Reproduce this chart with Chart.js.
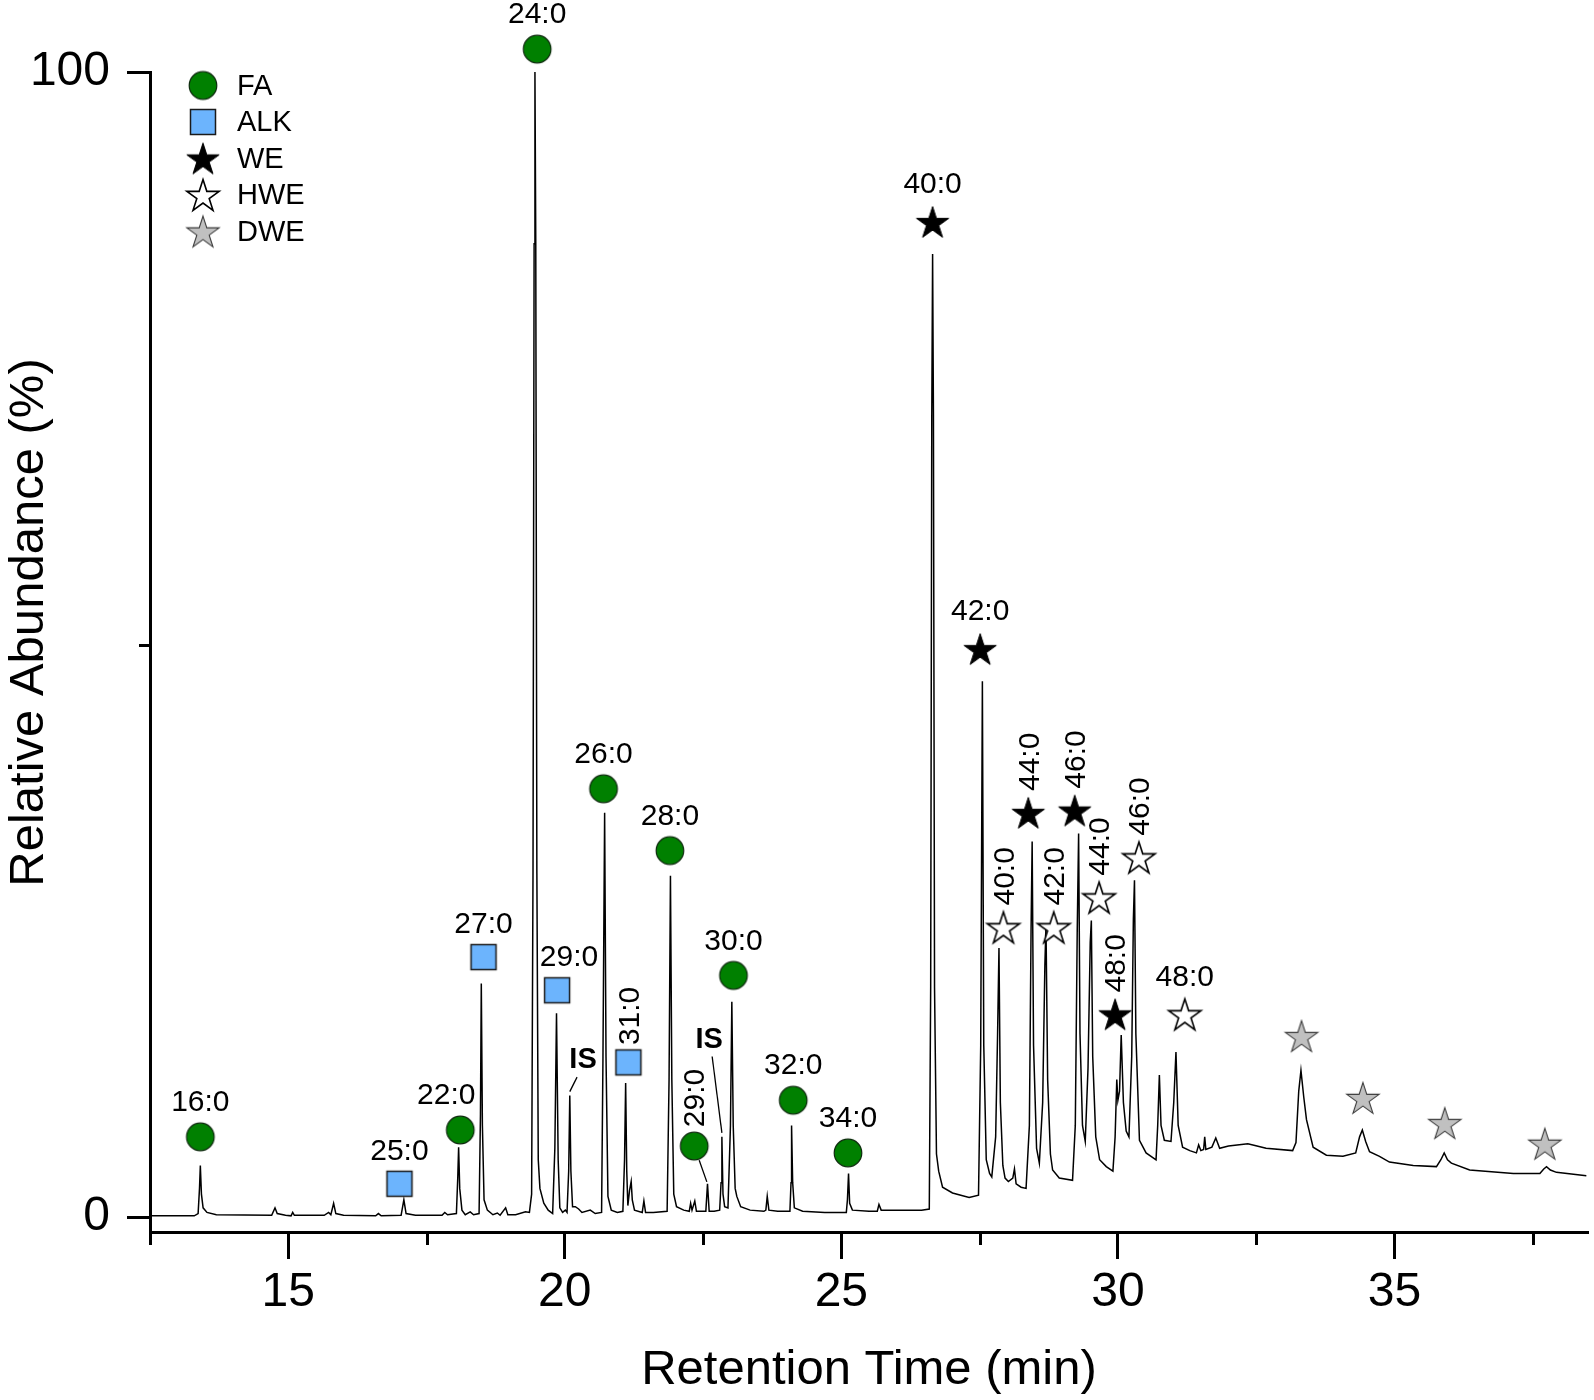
<!DOCTYPE html>
<html>
<head>
<meta charset="utf-8">
<script src="https://cdn.jsdelivr.net/npm/chart.js@4.4.1/dist/chart.umd.min.js"></script>
<style>
html, body { margin: 0; padding: 0; background: #fff; }
#wrap { width: 1594px; height: 1400px; position: relative; }
</style>
</head>
<body>
<div id="wrap"><canvas id="c" width="1594" height="1400"></canvas></div>
<script>
// ---------------- DATA ----------------
const xTitle = 'Retention Time (min)';
const yTitle = 'Relative Abundance (%)';
const xMajorTicks = [15, 20, 25, 30, 35];
const xMinorTicks = [12.5, 17.5, 22.5, 27.5, 32.5, 37.5];
const yMajorTicks = [0, 100];
const yMinorTicks = [50];

// chromatogram trace (retention time, relative abundance %)
const traceTime = [
  12.50, 13.30, 13.37, 13.395, 13.41, 13.43, 13.46, 13.53, 13.70, 14.70, 14.76, 14.80, 14.95, 15.05, 15.08, 15.11,
  15.65, 15.73, 15.77, 15.82, 15.86, 16.00, 16.58, 16.63, 16.68, 17.04, 17.09, 17.13, 17.30, 17.78, 17.83, 17.88,
  18.04, 18.065, 18.08, 18.10, 18.14, 18.20, 18.29, 18.35, 18.45, 18.475, 18.49, 18.51, 18.54, 18.60, 18.70, 18.78,
  18.83, 18.93, 18.97, 19.11, 19.29, 19.36, 19.40, 19.425, 19.445, 19.46, 19.475, 19.495, 19.52, 19.55, 19.62, 19.70,
  19.78, 19.82, 19.85, 19.88, 19.91, 19.96, 20.01, 20.04, 20.07, 20.09, 20.11, 20.14, 20.19, 20.25, 20.31, 20.46,
  20.55, 20.665, 20.69, 20.72, 20.745, 20.78, 20.84, 20.95, 21.05, 21.08, 21.10, 21.12, 21.14, 21.17, 21.20, 21.22,
  21.26, 21.40, 21.43, 21.46, 21.60, 21.85, 21.885, 21.91, 21.935, 21.97, 22.02, 22.15, 22.25, 22.275, 22.30, 22.35,
  22.38, 22.55, 22.58, 22.61, 22.70, 22.80, 22.825, 22.84, 22.86, 22.89, 22.95, 22.995, 23.02, 23.045, 23.08, 23.11,
  23.18, 23.35, 23.60, 23.635, 23.66, 23.69, 23.85, 24.07, 24.09, 24.10, 24.12, 24.15, 24.30, 24.70, 25.09, 25.11,
  25.13, 25.15, 25.20, 25.50, 25.65, 25.68, 25.72, 26.10, 26.45, 26.59, 26.615, 26.635, 26.65, 26.665, 26.685, 26.72,
  26.76, 26.83, 27.01, 27.31, 27.48, 27.52, 27.55, 27.575, 27.62, 27.68, 27.72, 27.79, 27.825, 27.85, 27.875, 27.92,
  27.96, 28.02, 28.10, 28.13, 28.16, 28.25, 28.34, 28.40, 28.43, 28.45, 28.475, 28.53, 28.58, 28.64, 28.68, 28.70,
  28.73, 28.78, 28.82, 28.94, 29.18, 29.23, 29.265, 29.29, 29.315, 29.36, 29.41, 29.46, 29.50, 29.52, 29.545, 29.60,
  29.67, 29.79, 29.91, 29.95, 29.98, 30.00, 30.03, 30.06, 30.10, 30.15, 30.20, 30.25, 30.28, 30.30, 30.325, 30.39,
  30.51, 30.69, 30.72, 30.75, 30.78, 30.84, 30.96, 31.01, 31.05, 31.09, 31.17, 31.30, 31.42, 31.46, 31.50, 31.55,
  31.57, 31.59, 31.70, 31.77, 31.84, 32.00, 32.35, 32.68, 33.16, 33.22, 33.27, 33.31, 33.36, 33.41, 33.53, 33.77,
  34.07, 34.30, 34.37, 34.42, 34.48, 34.55, 34.73, 34.91, 35.34, 35.76, 35.84, 35.90, 35.96, 36.03, 36.36, 37.15,
  37.63, 37.70, 37.75, 37.82, 37.93, 38.47
];
const traceAbundance = [
  0.1, 0.1, 0.3, 2.5, 4.5, 2.0, 0.8, 0.4, 0.2, 0.15, 0.8, 0.3, 0.15, 0.1, 0.4, 0.15,
  0.15, 0.4, 0.2, 1.2, 0.3, 0.15, 0.1, 0.3, 0.1, 0.15, 1.5, 0.3, 0.15, 0.15, 0.4, 0.2,
  0.3, 3.5, 6.1, 2.5, 0.6, 0.2, 0.45, 0.2, 0.3, 9, 20.4, 8, 1.5, 0.6, 0.2, 0.35,
  0.15, 0.8, 0.2, 0.2, 0.45, 0.4, 2, 30, 85, 100, 85, 30, 5, 2.5, 1.2, 0.6,
  0.3, 6, 17.8, 5, 0.8, 0.4, 0.6, 0.4, 4, 10.6, 4, 0.9, 0.9, 0.7, 0.4, 0.6,
  0.3, 0.4, 14, 35.3, 14, 1.8, 0.6, 0.4, 0.5, 5, 11.7, 4, 1.0, 2.3, 3.1, 1.5,
  0.6, 0.4, 1.4, 0.4, 0.4, 0.5, 12, 29.8, 12, 2.0, 0.9, 0.6, 0.5, 1.2, 0.6, 1.4,
  0.5, 0.5, 2.9, 0.5, 0.5, 0.6, 3, 7.0, 2, 0.9, 0.8, 8, 18.8, 8, 2.5, 1.8,
  0.9, 0.6, 0.5, 0.6, 1.8, 0.6, 0.5, 0.5, 3, 8.0, 3, 0.8, 0.5, 0.4, 0.4, 1.5,
  3.8, 1.2, 0.6, 0.5, 0.5, 1.1, 0.6, 0.6, 0.6, 0.7, 20, 70, 84.1, 70, 20, 5.5,
  4.0, 2.6, 2.1, 1.7, 1.9, 15, 46.8, 15, 5, 3.8, 3.5, 7, 16, 23.5, 10, 4.5,
  3.4, 3.1, 3.4, 4.2, 2.9, 2.6, 2.5, 8, 25, 32.8, 15, 6, 4.7, 10, 22, 25.5,
  12, 5.5, 4.1, 3.4, 3.2, 8, 25, 33.5, 16, 8, 6.6, 13, 24, 25.9, 14, 7,
  5.0, 4.4, 4.0, 7, 12.0, 10.2, 11, 15.9, 10, 7.5, 7.0, 14, 26, 29.4, 16, 6.7,
  5.6, 5.0, 8, 12.4, 8, 6.7, 6.6, 10, 14.4, 8, 6.1, 5.8, 5.6, 6.3, 5.8, 5.9,
  7.0, 5.9, 6.1, 6.9, 6.0, 6.2, 6.4, 6.0, 5.8, 6.5, 11, 12.8, 10.5, 8.5, 6.1, 5.4,
  5.3, 5.6, 7.0, 7.6, 6.6, 5.7, 5.3, 4.8, 4.5, 4.4, 5.0, 5.6, 5.0, 4.7, 4.1, 3.8,
  3.8, 4.2, 4.4, 4.1, 3.9, 3.6
];

// compound class markers (time, marker height %) and their labels
const faTime   = [13.41, 18.11, 19.50, 20.70, 21.90, 22.34, 23.05, 24.13, 25.12];
const faValue  = [7.0, 7.6, 102.0, 37.4, 32.0, 6.2, 21.1, 10.2, 5.6];
const faLabels = ['16:0', '22:0', '24:0', '26:0', '28:0', '29:0', '30:0', '32:0', '34:0'];

const alkTime   = [17.01, 18.53, 19.86, 21.15];
const alkValue  = [2.9, 22.7, 19.8, 13.5];
const alkLabels = ['25:0', '27:0', '29:0', '31:0'];

const weTime   = [26.65, 27.51, 28.38, 29.22, 29.95];
const weValue  = [86.9, 49.6, 35.3, 35.5, 17.7];
const weLabels = ['40:0', '42:0', '44:0', '46:0', '48:0'];

const hweTime   = [27.93, 28.84, 29.66, 30.38, 31.21];
const hweValue  = [25.3, 25.3, 27.9, 31.4, 17.7];
const hweLabels = ['40:0', '42:0', '44:0', '46:0', '48:0'];

const dweTime  = [33.32, 34.43, 35.91, 37.72];
const dweValue = [15.8, 10.4, 8.2, 6.4];

const legendNames = ['FA', 'ALK', 'WE', 'HWE', 'DWE'];

// internal standard annotations
const isLabel     = ['IS', 'IS'];
const isLabelTime = [20.33, 22.61];
const isLabelY    = [13.7, 15.5];
const isPeakTime  = [20.09, 22.84];
const isPeakY     = [10.6, 7.0];

// marker-to-peak leader (FA 29:0)
const leaderSeries = ['FA'];
const leaderLabel  = ['29:0'];
const leaderPeakTime = [22.58];
const leaderPeakY    = [2.9];

// ---------------- STYLE ----------------
const FONT = '"Liberation Sans", Arial, Helvetica, sans-serif';
Chart.defaults.font.family = FONT;
Chart.defaults.color = '#000';

function makeCircle() {
  const c = document.createElement('canvas'); c.width = 32; c.height = 32;
  const g = c.getContext('2d');
  g.beginPath(); g.arc(16, 16, 13.8, 0, Math.PI * 2);
  g.fillStyle = '#008000'; g.fill();
  g.lineWidth = 1.2; g.strokeStyle = '#0d2a0d'; g.stroke();
  return c;
}
function makeSquare() {
  const c = document.createElement('canvas'); c.width = 30; c.height = 30;
  const g = c.getContext('2d');
  g.fillStyle = '#6cb4fd'; g.fillRect(2.5, 2.5, 25, 25);
  g.lineWidth = 1.5; g.strokeStyle = '#1a1a1a'; g.strokeRect(2.5, 2.5, 25, 25);
  return c;
}
function makeStar(fill, stroke, lw) {
  const size = 40, R = 17, r = R * 0.382;
  const c = document.createElement('canvas'); c.width = size; c.height = size;
  const g = c.getContext('2d');
  g.translate(size / 2, size / 2 + 1.6);
  g.beginPath();
  for (let i = 0; i < 10; i++) {
    const rad = i % 2 === 0 ? R : r;
    const a = -Math.PI / 2 + i * Math.PI / 5;
    const px = rad * Math.cos(a), py = rad * Math.sin(a);
    if (i === 0) g.moveTo(px, py); else g.lineTo(px, py);
  }
  g.closePath();
  g.fillStyle = fill; g.fill();
  g.lineJoin = 'miter'; g.lineWidth = lw; g.strokeStyle = stroke; g.stroke();
  return c;
}
const imgFA = makeCircle();
const imgALK = makeSquare();
const imgWE = makeStar('#000000', '#000000', 1);
const imgHWE = makeStar('#ffffff', '#000000', 1.6);
const imgDWE = makeStar('#c0c0c0', '#3a3a3a', 1.1);

const series = [
  { name: 'FA',  time: faTime,  value: faValue,  labels: faLabels,  img: imgFA,  half: 14 },
  { name: 'ALK', time: alkTime, value: alkValue, labels: alkLabels, img: imgALK, half: 12.5 },
  { name: 'WE',  time: weTime,  value: weValue,  labels: weLabels,  img: imgWE,  half: 17 },
  { name: 'HWE', time: hweTime, value: hweValue, labels: hweLabels, img: imgHWE, half: 17 },
  { name: 'DWE', time: dweTime, value: dweValue, labels: [],        img: imgDWE, half: 17 }
];
// labels drawn vertically, and small horizontal nudges (px)
const verticalLabels = { FA: ['29:0'], ALK: ['31:0'], WE: ['44:0', '46:0', '48:0'], HWE: ['40:0', '42:0', '44:0', '46:0'] };
const labelNudge = { 'FA 22:0': -14, 'ALK 29:0': 12 };

const annotate = {
  id: 'annotate',
  afterDraw(chart) {
    const ctx = chart.ctx, xs = chart.scales.x, ys = chart.scales.y, ca = chart.chartArea;
    ctx.save();
    // minor ticks
    ctx.strokeStyle = '#000'; ctx.lineWidth = 3;
    xMinorTicks.forEach(v => {
      const px = Math.round(xs.getPixelForValue(v)) + 0.5;
      ctx.beginPath(); ctx.moveTo(px, ca.bottom); ctx.lineTo(px, ca.bottom + 13); ctx.stroke();
    });
    yMinorTicks.forEach(v => {
      const py = Math.round(ys.getPixelForValue(v)) + 0.5;
      ctx.beginPath(); ctx.moveTo(ca.left, py); ctx.lineTo(ca.left - 11, py); ctx.stroke();
    });

    // y title
    ctx.save();
    ctx.font = '49px ' + FONT; ctx.fillStyle = '#000';
    ctx.translate(ys.left + 29.4, (ys.getPixelForValue(0) + ys.getPixelForValue(100)) / 2 - 22);
    ctx.rotate(-Math.PI / 2);
    ctx.textAlign = 'center'; ctx.textBaseline = 'middle';
    ctx.fillText(yTitle, 0, 0);
    ctx.restore();

    // peak labels
    ctx.fillStyle = '#000';
    ctx.font = '30px ' + FONT;
    series.forEach(s => {
      s.labels.forEach((lab, i) => {
        const px = xs.getPixelForValue(s.time[i]);
        const py = ys.getPixelForValue(s.value[i]);
        const vert = (verticalLabels[s.name] || []).includes(lab);
        if (vert) {
          ctx.save();
          ctx.translate(px + 2, py - s.half - 34);
          ctx.rotate(-Math.PI / 2);
          ctx.textAlign = 'center'; ctx.textBaseline = 'middle';
          ctx.fillText(lab, 0, 0);
          ctx.restore();
        } else {
          const dx = labelNudge[s.name + ' ' + lab] || 0;
          ctx.textAlign = 'center'; ctx.textBaseline = 'middle';
          ctx.fillText(lab, px + dx, py - s.half - 20);
        }
      });
    });

    // leader from marker to peak
    ctx.lineWidth = 1.3; ctx.strokeStyle = '#000';
    leaderSeries.forEach((sn, k) => {
      const s = series.find(q => q.name === sn);
      const i = s.labels.indexOf(leaderLabel[k]);
      const mx = xs.getPixelForValue(s.time[i]), my = ys.getPixelForValue(s.value[i]);
      const tx = xs.getPixelForValue(leaderPeakTime[k]), ty = ys.getPixelForValue(leaderPeakY[k]);
      const d = Math.hypot(tx - mx, ty - my), ux = (tx - mx) / d, uy = (ty - my) / d;
      ctx.beginPath();
      ctx.moveTo(mx + ux * (s.half + 1), my + uy * (s.half + 1));
      ctx.lineTo(tx - ux * 2, ty - uy * 2);
      ctx.stroke();
    });

    // IS labels and leaders
    ctx.font = 'bold 29px ' + FONT;
    isLabel.forEach((t, i) => {
      const lx = xs.getPixelForValue(isLabelTime[i]), ly = ys.getPixelForValue(isLabelY[i]);
      const tx = xs.getPixelForValue(isPeakTime[i]), ty = ys.getPixelForValue(isPeakY[i]);
      ctx.textAlign = 'center'; ctx.textBaseline = 'middle';
      ctx.fillText(t, lx, ly);
      const sx = lx + Math.max(-6, Math.min(3, (tx - lx) * 0.5));
      ctx.beginPath(); ctx.moveTo(sx, ly + 17); ctx.lineTo(tx, ty - 4); ctx.stroke();
    });

    // legend
    ctx.font = '29px ' + FONT; ctx.textAlign = 'left'; ctx.textBaseline = 'middle';
    legendNames.forEach((n, i) => {
      const s = series.find(q => q.name === n);
      const cx = ca.left + 53, cy = ca.top + 13.5 + i * 36.5;
      ctx.drawImage(s.img, cx - s.img.width / 2, cy - s.img.height / 2);
      ctx.fillText(n, ca.left + 87, cy + 1);
    });
    ctx.restore();
  }
};

const markerDatasets = series.map(s => ({
  label: s.name,
  data: s.time.map((t, i) => ({ x: t, y: s.value[i] })),
  pointStyle: s.img,
  pointRadius: 40,
  pointBorderWidth: 0,
  showLine: false,
  clip: false,
  order: 0
}));

new Chart(document.getElementById('c'), {
  type: 'scatter',
  data: {
    datasets: [
      {
        label: 'trace',
        data: traceTime.map((t, i) => ({ x: t, y: traceAbundance[i] })),
        showLine: true,
        borderColor: '#000',
        borderWidth: 1.5,
        pointRadius: 0,
        tension: 0,
        order: 5
      },
      ...markerDatasets
    ]
  },
  options: {
    responsive: false,
    animation: false,
    events: [],
    layout: { autoPadding: false, padding: { top: 72, right: 6, left: 0, bottom: 0 } },
    plugins: { legend: { display: false }, tooltip: { enabled: false } },
    scales: {
      x: {
        type: 'linear', min: 12.5, max: 38.5,
        afterBuildTicks: a => { a.ticks = xMajorTicks.map(v => ({ value: v })); },
        afterFit: s => { s.height = 168; s.paddingLeft = 0; s.paddingRight = 0; },
        grid: { display: true, drawOnChartArea: false, drawTicks: true, tickLength: 27, tickWidth: 3, tickColor: '#000' },
        border: { display: true, width: 3, color: '#000' },
        ticks: { font: { size: 48 }, color: '#000', padding: 5, maxRotation: 0, autoSkip: false, callback: v => String(v) },
        title: { display: true, text: xTitle, font: { size: 49 }, color: '#000', padding: 0 }
      },
      y: {
        type: 'linear', min: -1.31, max: 100,
        afterBuildTicks: a => { a.ticks = yMajorTicks.map(v => ({ value: v })); },
        afterFit: s => { s.width = 150; s.paddingTop = 0; s.paddingBottom = 0; },
        grid: { display: true, drawOnChartArea: false, drawTicks: true, tickLength: 23, tickWidth: 3, tickColor: '#000' },
        border: { display: true, width: 3, color: '#000' },
        ticks: { font: { size: 48 }, color: '#000', padding: 17, callback: v => String(v) },
        title: { display: false }
      }
    }
  },
  plugins: [annotate]
});
</script>
</body>
</html>
